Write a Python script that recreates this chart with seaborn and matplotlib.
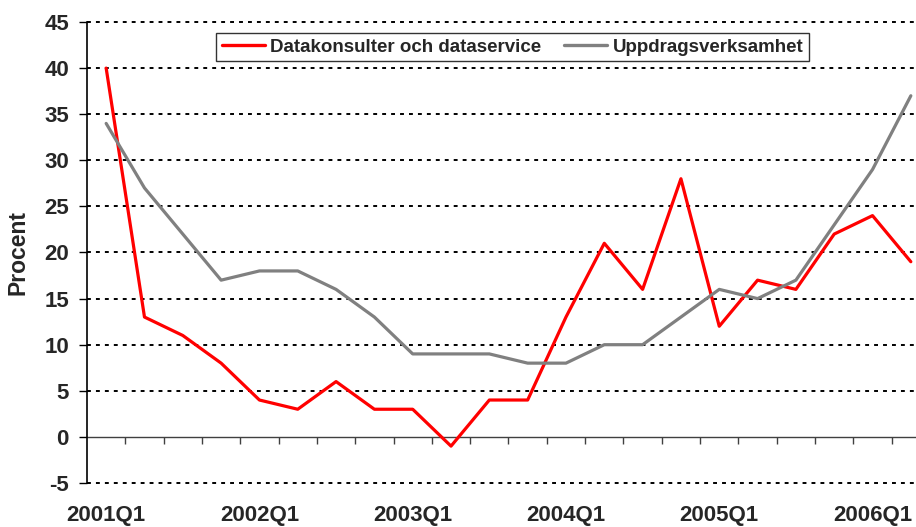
import matplotlib
matplotlib.use("Agg")
import matplotlib.pyplot as plt
import seaborn as sns
import pandas as pd
import numpy as np

quarters = [f"{y}Q{q}" for y in range(2001, 2007) for q in range(1, 5)][:22]
datakonsulter = [40, 13, 11, 8, 4, 3, 6, 3, 3, -1, 4, 4, 13, 21, 16, 28, 12, 17, 16, 22, 24, 19]
uppdrag = [34, 27, 22, 17, 18, 18, 16, 13, 9, 9, 9, 8, 8, 10, 10, 13, 16, 15, 17, 23, 29, 37]
series_names = ["Datakonsulter och dataservice", "Uppdragsverksamhet"]
colors = ["#FF0000", "#808080"]
yticks = list(range(-5, 50, 5))

sns.set_style("white")
plt.rcParams['font.family'] = ['Liberation Sans', 'DejaVu Sans']
plt.rcParams['font.weight'] = 'bold'

df = pd.DataFrame({
    "idx": list(range(len(quarters))) * 2,
    "value": datakonsulter + uppdrag,
    "serie": [series_names[0]] * len(quarters) + [series_names[1]] * len(quarters),
})

fig = plt.figure(figsize=(9.16, 5.27), dpi=100)
ax = fig.add_axes([87/916, 44/527, 843/916, 461/527])

sns.lineplot(data=df, x="idx", y="value", hue="serie", palette=colors,
             hue_order=series_names, linewidth=2.3, ax=ax, legend=True)

ax.set_xlim(-0.5, len(quarters) - 0.5)
ax.set_ylim(-5, 45)

# dotted gridlines
for v in yticks:
    if v == 0:
        continue
    ax.axhline(v, color="black", linestyle=(0, (2.0, 2.6)), linewidth=1.4, zorder=0, clip_on=False)
ax.axhline(0, color="#404040", linewidth=1.0, zorder=1)

for s in ["top", "right", "bottom"]:
    ax.spines[s].set_visible(False)
ax.spines["left"].set_color("black")
ax.spines["left"].set_linewidth(1.2)

ax.set_yticks(yticks)
ax.set_yticklabels([str(v) for v in yticks], fontsize=16, fontweight="bold")
ax.tick_params(axis="y", direction="out", length=6, width=1, color="black", pad=7, left=True)

ax.set_xticks(list(range(0, len(quarters), 4)))
ax.set_xticklabels([quarters[i] for i in range(0, len(quarters), 4)], fontsize=16, fontweight="bold")
ax.tick_params(axis="x", length=0, pad=16)

sec = ax.secondary_xaxis(0.1)
sec.set_xticks(np.arange(0.5, len(quarters) - 0.5, 1.0))
sec.set_xticklabels([])
sec.tick_params(axis="x", direction="out", length=5, width=1, color="#404040")
sec.spines["bottom"].set_visible(False)

ax.set_xlabel("")
ax.set_ylabel("Procent", fontsize=16.5, fontweight="bold")
ax.yaxis.set_label_coords(-0.068, 0.5)

leg = ax.legend(loc="upper left", bbox_to_anchor=(216/916, 1 - 33/527), bbox_transform=fig.transFigure,
                ncol=2, frameon=True, fancybox=False, borderaxespad=0,
                handlelength=2.3, handletextpad=0.3, columnspacing=1.2, borderpad=0.3,
                prop={"weight": "bold", "size": 13.5})
leg.get_frame().set_edgecolor("black")
leg.get_frame().set_linewidth(1.0)
for line in leg.get_lines():
    line.set_linewidth(2.4)

fig.savefig("out.png", dpi=100)
